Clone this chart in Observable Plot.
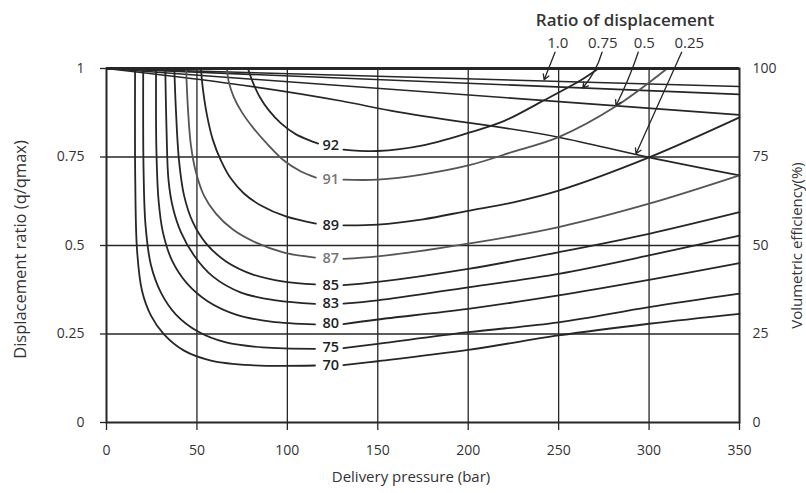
<!DOCTYPE html>
<html>
<head>
<meta charset="utf-8">
<script src="https://cdn.jsdelivr.net/npm/d3@7"></script>
<script src="https://cdn.jsdelivr.net/npm/@observablehq/plot@0.6"></script>
<style>
  html, body { margin: 0; padding: 0; background: #fff; }
  #chart svg { display: block; }
</style>
</head>
<body>
<div id="chart"></div>
<script>
// ---------- data (pressure in bar, displacement ratio q/qmax) ----------
const pressureTicks = [0, 50, 100, 150, 200, 250, 300, 350];
const ratioTicks = [0, 0.25, 0.5, 0.75, 1];
const ratioTickLabels = ["0", "0.25", "0.5", "0.75", "1"];
const efficiencyTickLabels = ["0", "25", "50", "75", "100"];

// volumetric efficiency contours; null marks the gap where the label sits
const contourLevels = [92, 91, 89, 87, 85, 83, 80, 75, 70];
const c92 = [[78.2,1],[81,0.96],[84.9,0.918],[89.9,0.881],[96.5,0.845],[104.8,0.814],[117,0.788],[124,null],[131,0.771],[150,0.767],[175,0.783],[200,0.818],[220,0.852],[240,0.905],[262,0.966],[272,1]];
const c91 = [[66.6,1],[67.7,0.96],[70.5,0.918],[74.9,0.876],[81,0.833],[88.7,0.788],[98.1,0.74],[107.5,0.709],[115.8,0.692],[124,null],[131,0.686],[150,0.686],[175,0.701],[200,0.726],[225,0.765],[250,0.806],[281,0.891],[310,1]];
const c89 = [[52.2,1],[53.4,0.938],[55.6,0.867],[58.9,0.797],[63.3,0.74],[68.8,0.689],[76,0.647],[85.4,0.613],[99.2,0.582],[115.8,0.562],[124,null],[131,0.557],[150,0.559],[175,0.574],[200,0.598],[225,0.622],[250,0.655],[300,0.749],[350,0.862]];
const c87 = [[44,1],[45.1,0.881],[46.7,0.782],[49.5,0.706],[53.9,0.641],[60.5,0.59],[69.9,0.545],[82.7,0.508],[98.1,0.48],[115.3,0.466],[124,null],[131,0.462],[150,0.469],[200,0.505],[250,0.552],[300,0.618],[350,0.698]];
const c85 = [[37.5,1],[38.4,0.881],[40.1,0.74],[42.9,0.641],[47.8,0.565],[55,0.506],[66.1,0.455],[81,0.418],[98.1,0.398],[115.3,0.39],[124,null],[131,0.388],[150,0.397],[200,0.434],[250,0.481],[300,0.533],[350,0.594]];
const c83 = [[32.5,1],[33.2,0.825],[34.3,0.684],[36.8,0.605],[41.2,0.537],[48.4,0.472],[58.9,0.412],[74.4,0.367],[93.7,0.345],[115.3,0.335],[124,null],[131,0.336],[150,0.345],[200,0.382],[250,0.42],[300,0.472],[350,0.528]];
const c80 = [[27.4,1],[27.6,0.768],[28.8,0.627],[31.2,0.537],[36.2,0.458],[44.5,0.393],[56.1,0.342],[71.6,0.305],[91,0.285],[115.3,0.277],[124,null],[131,0.278],[150,0.291],[200,0.321],[250,0.359],[300,0.403],[350,0.45]];
const c75 = [[20.3,1],[20.5,0.712],[21.6,0.556],[24.6,0.444],[30.1,0.367],[38.4,0.305],[50.6,0.257],[66.1,0.226],[86.5,0.212],[115.3,0.208],[124,null],[131,0.21],[150,0.222],[200,0.255],[250,0.283],[300,0.326],[350,0.364]];
const c70 = [[15.8,1],[15.9,0.684],[16.9,0.486],[19.6,0.373],[24.6,0.302],[31.8,0.249],[42.9,0.203],[57.8,0.175],[79.9,0.162],[115.3,0.161],[124,null],[131,0.162],[150,0.173],[200,0.205],[250,0.246],[300,0.279],[350,0.307]];
const contourCurves = [c92, c91, c89, c87, c85, c83, c80, c75, c70];
const contourLabelPressure = 124;
const contourLabelRatio = [0.782, 0.688, 0.556, 0.463, 0.387, 0.336, 0.28, 0.212, 0.161];
const contourGrey = [false, true, false, true, false, false, false, false, false];

// ratio-of-displacement lines
const dispNames = ["1.0", "0.75", "0.5", "0.25"];
const d100 = [[0,1],[350,0.949]];
const d075 = [[0,1],[350,0.927]];
const d050 = [[0,1],[350,0.869]];
const d025 = [[0,1],[130,0.908],[157,0.881],[250,0.806],[300,0.749],[350,0.698]];
const dispLines = [d100, d075, d050, d025];

// legend annotation (above the frame)
const legendTitle = "Ratio of displacement";
const legendTitlePos = [286.7, 1.136];
const legendLabelPressure = [249.5, 274.4, 297.4, 322.2];
const legendLabelRatio = 1.071;
const arrowFromPressure = [248, 274, 294, 318];
const arrowFromRatio = 1.046;
const arrowToPressure = [242, 263.3, 281.7, 292.8];
const arrowToRatio = [0.968, 0.945, 0.895, 0.759];
const arrowBend = [0, 12, 4, 0];

// ---------- build tables ----------
const contourRows = contourCurves.flatMap((pts, i) =>
  pts.map(([p, r]) => ({level: contourLevels[i], p, r, grey: contourGrey[i]})));
const contourLabels = contourLevels.map((lv, i) => ({
  text: String(lv), p: contourLabelPressure, r: contourLabelRatio[i], grey: contourGrey[i]}));
const dispRows = dispLines.flatMap((pts, i) => pts.map(([p, r]) => ({name: dispNames[i], p, r})));
const legendLabels = dispNames.map((n, i) => ({text: n, p: legendLabelPressure[i], r: legendLabelRatio}));
const arrows = dispNames.map((n, i) => ({
  x1: arrowFromPressure[i], y1: arrowFromRatio, x2: arrowToPressure[i], y2: arrowToRatio[i], bend: arrowBend[i]}));

const ink = "#262626";
const font = "'Open Sans', 'Noto Sans', sans-serif";

const chart = Plot.plot({
  width: 806,
  height: 493,
  marginLeft: 106,
  marginRight: 67,
  marginTop: 68,
  marginBottom: 71,
  style: {fontFamily: font, fontSize: "14px", color: "#333", background: "#fff"},
  x: {domain: [0, 350]},
  y: {domain: [0, 1]},
  marks: [
    Plot.gridX(pressureTicks.slice(1, -1), {stroke: ink, strokeOpacity: 1, strokeWidth: 1.3}),
    Plot.gridY(ratioTicks.slice(1, -1), {stroke: ink, strokeOpacity: 1, strokeWidth: 1.3}),
    Plot.axisX({ticks: pressureTicks, tickSize: 8, tickPadding: 15, label: null, stroke: ink, strokeWidth: 1.3, fill: "#333", fontSize: 14}),
    Plot.axisY({ticks: ratioTicks, tickSize: 6, tickPadding: 16, label: null, stroke: ink, strokeWidth: 1.3, fill: "#333", fontSize: 14,
      tickFormat: (d) => ratioTickLabels[ratioTicks.indexOf(d)]}),
    Plot.axisY({anchor: "right", ticks: ratioTicks, tickSize: 0, tickPadding: 13, label: null, fill: "#333", fontSize: 14,
      tickFormat: (d) => efficiencyTickLabels[ratioTicks.indexOf(d)]}),
    Plot.line(dispRows, {x: "p", y: "r", z: "name", stroke: ink, strokeWidth: 1.6, curve: "monotone-x"}),
    Plot.line(contourRows, {x: "p", y: "r", z: "level", stroke: (d) => d.grey ? "#555" : ink, strokeWidth: 1.8, curve: "catmull-rom"}),
    Plot.text(contourLabels, {x: "p", y: "r", text: "text", fill: (d) => d.grey ? "#777" : "#222", fontSize: 14.5, fontWeight: 600}),
    Plot.frame({stroke: ink, strokeWidth: 2}),
    Plot.ruleY([1], {stroke: ink, strokeWidth: 3}),
    ...arrows.map((a) => Plot.arrow([a], {x1: "x1", y1: "y1", x2: "x2", y2: "y2", bend: a.bend, stroke: ink, strokeWidth: 1.3, headLength: 7})),
    Plot.text([legendTitle], {x: legendTitlePos[0], y: legendTitlePos[1], text: (d) => d, fontSize: 17, fontWeight: 600, fill: "#333"}),
    Plot.text(legendLabels, {x: "p", y: "r", text: "text", fontSize: 15, fill: "#333"}),
    Plot.text(["Displacement ratio (q/qmax)"], {frameAnchor: "left", textAnchor: "middle", dx: -86, dy: 4, rotate: -90, fontSize: 16.5, fill: "#333"}),
    Plot.text(["Volumetric efficiency(%)"], {frameAnchor: "right", textAnchor: "middle", dx: 58, rotate: -90, fontSize: 15, fill: "#333"}),
    Plot.text(["Delivery pressure (bar)"], {frameAnchor: "bottom", dy: 59, dx: -12, fontSize: 15, fill: "#333"})
  ]
});
document.getElementById("chart").append(chart);
</script>
</body>
</html>
